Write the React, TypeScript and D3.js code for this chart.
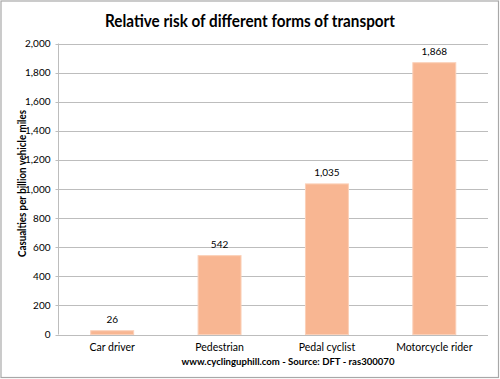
import React from "react";
import * as d3 from "d3";

const categories = ["Car driver", "Pedestrian", "Pedal cyclist", "Motorcycle rider"];
const values = [26, 542, 1035, 1868];
const yTicks = [0, 200, 400, 600, 800, 1000, 1200, 1400, 1600, 1800, 2000];

const W = 500, H = 379;
const left = 58.5, right = 488, top = 43.5, bottom = 334.5;
const font = "Lato, 'Open Sans', sans-serif";

export default function App() {
  const x = d3.scaleBand<string>().domain(categories).range([left, right]).padding(0);
  const y = d3.scaleLinear().domain([0, 2000]).range([bottom, top]);
  const fmt = d3.format(",");
  const bw = x.bandwidth() * 0.4;
  return (
    <svg width={W} height={H} style={{ position: "absolute", left: 0, top: 0 }}>
      <rect x={0} y={0} width={W} height={H} fill="#fff" />
      <rect x={1} y={1} width={W - 2.5} height={H - 2.5} fill="none" stroke="#a8a8a8" strokeWidth={1.2} />
      <text x={250} y={27} textAnchor="middle" fontFamily={font} fontWeight="bold" fontSize={16.5} textLength={290} lengthAdjust="spacingAndGlyphs" fill="#000">
        Relative risk of different forms of transport
      </text>
      {yTicks.map((t) => (
        <g key={t}>
          <line x1={left - 3} x2={right} y1={Math.round(y(t)) + 0.5} y2={Math.round(y(t)) + 0.5} stroke="#bdbdbd" strokeWidth={1} />
          <text x={left - 8} y={y(t) + 3.5} textAnchor="end" fontFamily={font} fontSize={10} fill="#000">
            {fmt(t)}
          </text>
        </g>
      ))}
      <line x1={left} x2={left} y1={top} y2={bottom} stroke="#bdbdbd" strokeWidth={1} />
      {categories.map((c, i) => {
        const cx = (x(c) as number) + x.bandwidth() / 2;
        return (
          <g key={c}>
            <rect x={cx - bw / 2} y={y(values[i])} width={bw} height={y(0) - y(values[i])} fill="#F8B692" stroke="#FBD0B8" strokeWidth={1} />
            <text x={cx} y={y(values[i]) - 8} textAnchor="middle" fontFamily={font} fontSize={10} fill="#000">
              {fmt(values[i])}
            </text>
            <text x={cx} y={350.5} textAnchor="middle" fontFamily={font} fontSize={10.5} fill="#000">
              {c}
            </text>
          </g>
        );
      })}
      <text x={288} y={365} textAnchor="middle" fontFamily={font} fontWeight="bold" fontSize={9.5} textLength={213} lengthAdjust="spacingAndGlyphs" fill="#000">
        www.cyclinguphill.com - Source: DFT - ras300070
      </text>
      <text transform={`translate(25.5,183.5) rotate(-90)`} textAnchor="middle" fontFamily={font} fontWeight="bold" fontSize={11} textLength={147} lengthAdjust="spacingAndGlyphs" fill="#000">
        Casualties  per billion vehicle miles
      </text>
    </svg>
  );
}
